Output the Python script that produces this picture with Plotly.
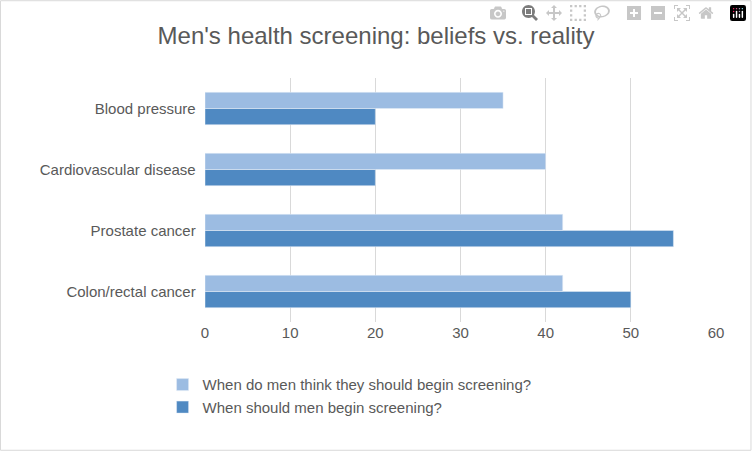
import plotly.graph_objects as go

categories = ["Blood pressure", "Cardiovascular disease", "Prostate cancer", "Colon/rectal cancer"]
think = [35, 40, 42, 42]
should = [20, 20, 55, 50]
x_ticks = [0, 10, 20, 30, 40, 50, 60]

fig = go.Figure()
fig.add_trace(go.Bar(y=categories, x=should, orientation="h",
                     name="When should men begin screening?", marker_color="#4F89C2"))
fig.add_trace(go.Bar(y=categories, x=think, orientation="h",
                     name="When do men think they should begin screening?", marker_color="#9CBCE2"))

W, H = 752, 451
l, r, t, b = 205, 36, 78, 129
pw, ph = W - l - r, H - t - b

fig.update_layout(
    width=W, height=H,
    margin=dict(l=l, r=r, t=t, b=b),
    paper_bgcolor="white", plot_bgcolor="white",
    font=dict(family="Liberation Sans, Arial", size=15, color="#595959"),
    title=dict(text="Men's health screening: beliefs vs. reality", x=0.5, xanchor="center",
               y=0.92, yanchor="middle", font=dict(size=24, color="#595959")),
    barmode="group", bargap=0.47, bargroupgap=0,
    legend=dict(traceorder="reversed", x=-0.083, y=-0.19, xanchor="left", yanchor="top",
                font=dict(size=15, color="#595959"), tracegroupgap=18),
    showlegend=True,
)
fig.update_xaxes(range=[0, 60], tickvals=x_ticks, showgrid=True, gridcolor="#D9D9D9",
                 zeroline=False, showline=False, ticks="", tickfont=dict(size=15))
fig.update_yaxes(categoryorder="array", categoryarray=categories[::-1], showline=False,
                 ticks="", ticksuffix="  ", tickfont=dict(size=15))
fig.add_shape(type="rect", xref="paper", yref="paper",
              x0=-l / pw + 0.001, x1=(W - l) / pw - 0.002,
              y0=-b / ph + 0.003, y1=(H - b) / ph - 0.003,
              line=dict(color="#D9D9D9", width=1))

fig.write_html("out.html", post_script="document.body.style.margin='0';")
